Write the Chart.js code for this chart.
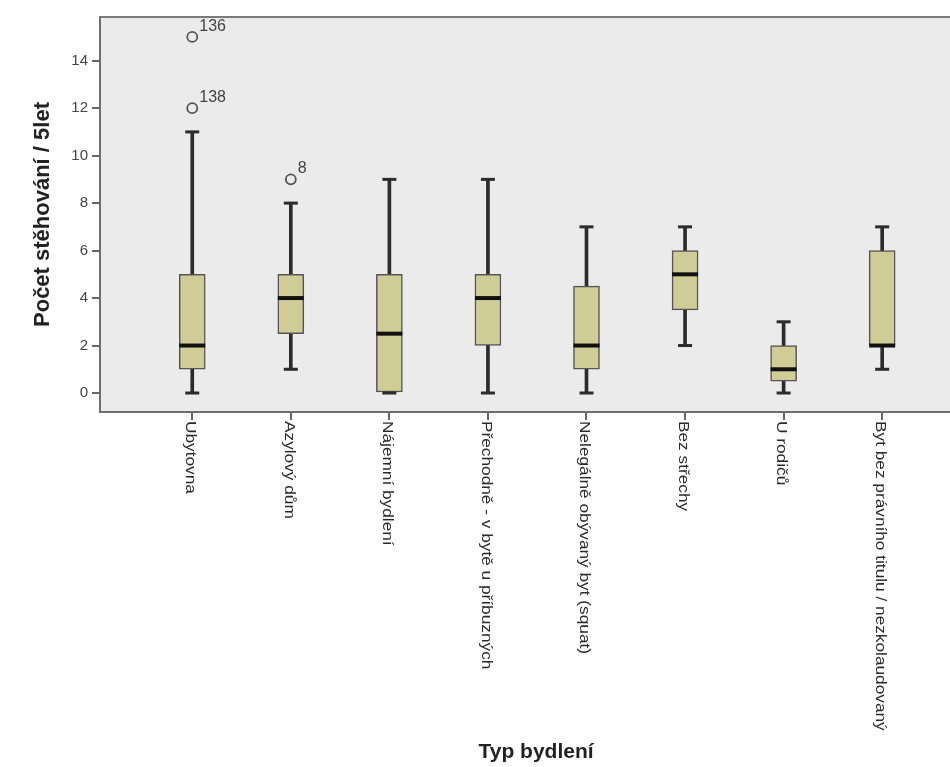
<!DOCTYPE html>
<html>
<head>
<meta charset="utf-8">
<title>Počet stěhování podle typu bydlení</title>
<script src="https://cdn.jsdelivr.net/npm/chart.js@4.4.0/dist/chart.umd.min.js"></script>
<style>
html, body { margin: 0; padding: 0; overflow: hidden; background: #fff; }
canvas { display: block; }
</style>
</head>
<body>
<canvas id="boxChart" width="980" height="767"></canvas>
<script>
// box plot data per housing type
const categories = [
  'Ubytovna',
  'Azylový dům',
  'Nájemní bydlení',
  'Přechodně - v bytě u příbuzných',
  'Nelegálně obývaný byt (squat)',
  'Bez střechy',
  'U rodičů',
  'Byt bez právního titulu / nezkolaudovaný'
]
const whiskerLow  = [0, 1,   0,   0, 0,   2,   0,   1]
const q1          = [1, 2.5, 0,   2, 1,   3.5, 0.5, 2]
const median      = [2, 4,   2.5, 4, 2,   5,   1,   2]
const q3          = [5, 5,   5,   5, 4.5, 6,   2,   6]
const whiskerHigh = [11, 8,  9,   9, 7,   7,   3,   7]

// outliers: category index, value, case number
const outlierGroup = [0, 0, 1]
const outlierValue = [15, 12, 9]
const outlierCase  = ['136', '138', '8']

const yTicks = [0, 2, 4, 6, 8, 10, 12, 14]

const yTitle = 'Počet stěhování / 5let'
const xTitle = 'Typ bydlení'

const ctx = document.getElementById('boxChart')

// background, frame and all the text
const boxText = {
  id: 'boxText',
  beforeDraw(chart) {
    const { ctx, chartArea: a } = chart
    ctx.save()
    ctx.fillStyle = '#ebebeb'
    ctx.fillRect(a.left, a.top, a.right - a.left, a.bottom - a.top)
    ctx.restore()
  },
  afterDraw(chart) {
    const { ctx, chartArea: a, scales } = chart
    const xs = scales.x
    const ys = scales.y
    ctx.save()

    // top edge of the frame
    ctx.strokeStyle = '#7a7a7a'
    ctx.lineWidth = 2
    ctx.beginPath()
    ctx.moveTo(a.left - 1, a.top)
    ctx.lineTo(a.right, a.top)
    ctx.stroke()

    // y tick labels
    ctx.fillStyle = '#444'
    ctx.font = '15px "Liberation Sans", Arial, sans-serif'
    ctx.textAlign = 'right'
    ctx.textBaseline = 'middle'
    yTicks.forEach(v => {
      ctx.fillText(String(v), a.left - 12, ys.getPixelForValue(v))
    })

    // y title
    ctx.save()
    ctx.translate(43, (a.top + a.bottom) / 2)
    ctx.rotate(-Math.PI / 2)
    ctx.fillStyle = '#222'
    ctx.font = 'bold 22px "Liberation Sans", Arial, sans-serif'
    ctx.textAlign = 'center'
    ctx.textBaseline = 'middle'
    ctx.fillText(yTitle, 0, 0)
    ctx.restore()

    // category labels, reading downwards
    ctx.fillStyle = '#2a2a2a'
    ctx.font = '15px "Liberation Sans", Arial, sans-serif'
    categories.forEach((c, i) => {
      ctx.save()
      ctx.translate(xs.getPixelForValue(i) - 2, a.bottom + 9)
      ctx.rotate(Math.PI / 2)
      ctx.scale(1.15, 1)
      ctx.textAlign = 'left'
      ctx.textBaseline = 'middle'
      ctx.fillText(c, 0, 0)
      ctx.restore()
    })

    // x title
    ctx.fillStyle = '#222'
    ctx.font = 'bold 21px "Liberation Sans", Arial, sans-serif'
    ctx.textAlign = 'center'
    ctx.textBaseline = 'middle'
    ctx.fillText(xTitle, 536, 752)

    // outlier case numbers
    ctx.fillStyle = '#444'
    ctx.font = '16px "Liberation Sans", Arial, sans-serif'
    ctx.textAlign = 'left'
    ctx.textBaseline = 'alphabetic'
    outlierCase.forEach((t, i) => {
      const px = xs.getPixelForValue(outlierGroup[i])
      const py = ys.getPixelForValue(outlierValue[i])
      ctx.fillText(t, px + 7, py - 6)
    })
    ctx.restore()
  }
}

new Chart(ctx, {
  type: 'bar',
  data: {
    datasets: [
      {
        type: 'scatter',
        label: 'outliers',
        data: outlierGroup.map((g, i) => ({ x: g, y: outlierValue[i] })),
        pointStyle: 'circle',
        pointRadius: 5,
        borderColor: '#555',
        borderWidth: 1.8,
        backgroundColor: 'rgba(0,0,0,0)'
      },
      {
        type: 'scatter',
        label: 'median',
        data: median.map((v, i) => ({ x: i, y: v })),
        pointStyle: 'line',
        pointRadius: 13,
        borderColor: '#111',
        borderWidth: 4
      },
      {
        type: 'scatter',
        label: 'caps',
        data: whiskerLow.map((v, i) => ({ x: i, y: v }))
          .concat(whiskerHigh.map((v, i) => ({ x: i, y: v }))),
        pointStyle: 'line',
        pointRadius: 7,
        borderColor: '#2b2b2b',
        borderWidth: 3
      },
      {
        label: 'box',
        data: q1.map((v, i) => ({ x: i, y: [v, q3[i]] })),
        barThickness: 26,
        grouped: false,
        backgroundColor: '#cfcc96',
        borderColor: '#555',
        borderWidth: 1.5,
        borderSkipped: false
      },
      {
        label: 'whiskers',
        data: whiskerLow.map((v, i) => ({ x: i, y: [v, whiskerHigh[i]] })),
        barThickness: 3,
        grouped: false,
        backgroundColor: '#2b2b2b',
        borderWidth: 0
      }
    ]
  },
  options: {
    responsive: false,
    animation: false,
    events: [],
    layout: {
      padding: { left: 92, top: 15, right: 0, bottom: 347 }
    },
    plugins: {
      legend: { display: false },
      tooltip: { enabled: false }
    },
    scales: {
      x: {
        type: 'linear',
        offset: false,
        min: -0.936,
        max: 7.82,
        afterBuildTicks: (scale) => {
          scale.ticks = categories.map((c, i) => ({ value: i }))
        },
        ticks: { display: false },
        grid: {
          offset: false,
          drawOnChartArea: false,
          drawTicks: true,
          tickLength: 8,
          color: '#666',
          lineWidth: 2
        },
        border: { display: true, color: '#6e6e6e', width: 2 }
      },
      y: {
        type: 'linear',
        min: -0.8,
        max: 15.84,
        afterBuildTicks: (scale) => {
          scale.ticks = yTicks.map(v => ({ value: v }))
        },
        ticks: { display: false },
        grid: {
          drawOnChartArea: false,
          drawTicks: true,
          tickLength: 8,
          color: '#666',
          lineWidth: 2
        },
        border: { display: true, color: '#6e6e6e', width: 2 }
      }
    }
  },
  plugins: [boxText]
})
</script>
</body>
</html>
